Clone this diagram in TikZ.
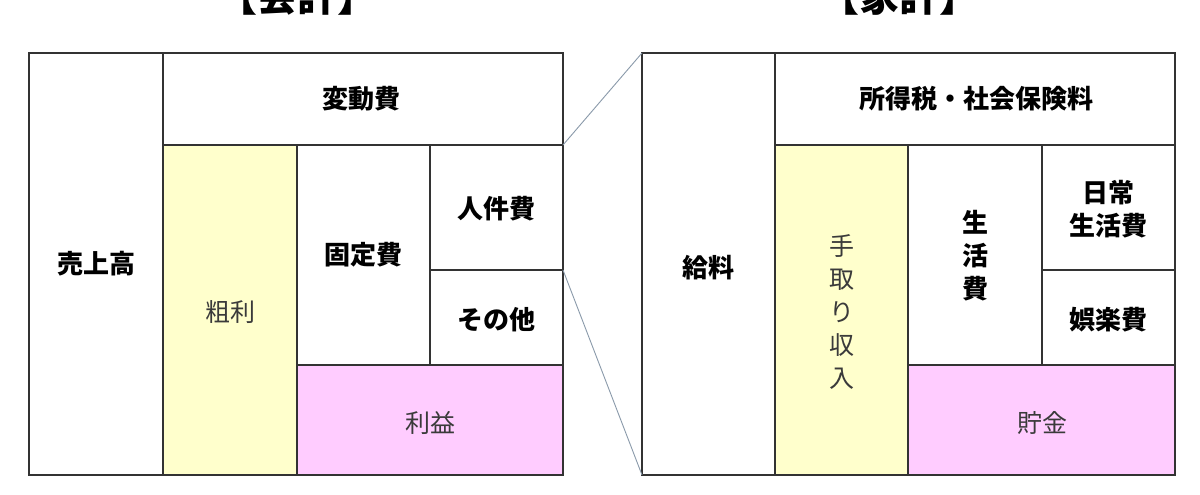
\documentclass[tikz,border=0pt]{standalone}
\usepackage{fontspec}
\newfontfamily\jp{Noto Sans CJK JP}
\definecolor{lineC}{HTML}{333333}
\definecolor{linkC}{HTML}{8A9AAA}
\definecolor{yel}{HTML}{FFFFCC}
\definecolor{pnk}{HTML}{FFCCFF}
\definecolor{txtC}{HTML}{3A3A3A}
\begin{document}
\begin{tikzpicture}[x=1pt,y=-1pt,
  cell/.style={draw=lineC,line width=1.3pt},
  blab/.style={font=\jp\bfseries\fontsize{26}{33}\selectfont,align=center,inner sep=0pt,text=black},
  rlab/.style={font=\jp\fontsize{25}{33}\selectfont,align=center,inner sep=0pt,text=txtC},
  ttl/.style={font=\jp\bfseries\fontsize{40}{40}\selectfont,inner sep=0pt,anchor=base},
  link/.style={draw=linkC,line width=0.9pt}]
\useasboundingbox (0,0) rectangle (1200,495);
\clip (0,0) rectangle (1200,495);
\fill[white] (0,0) rectangle (1200,495);
% titles
\node[ttl] (t1) at (297,12) {【会計】};
\node[ttl] (t2) at (899,12) {【家計】};
% ---- left panel
\filldraw[cell,fill=yel] (163,145) rectangle (297,475);
\filldraw[cell,fill=pnk] (297,365) rectangle (563,475);
\draw[cell] (29,53) rectangle (163,475);
\draw[cell] (163,53) rectangle (563,145);
\draw[cell] (297,145) rectangle (430,365);
\draw[cell] (430,145) rectangle (563,270);
\draw[cell] (430,270) rectangle (563,365);
\node[blab] (a1) at (96,264) {売上高};
\node[blab] (a2) at (361,99) {変動費};
\node[rlab] (a3) at (230,312) {粗利};
\node[blab] (a4) at (363,255) {固定費};
\node[blab] (a5) at (496,209) {人件費};
\node[blab] (a6) at (496,320) {その他};
\node[rlab] (a7) at (430,423) {利益};
% ---- right panel
\filldraw[cell,fill=yel] (775,145) rectangle (908,475);
\filldraw[cell,fill=pnk] (908,365) rectangle (1175,475);
\draw[cell] (642,53) rectangle (775,475);
\draw[cell] (775,53) rectangle (1175,145);
\draw[cell] (908,145) rectangle (1042,365);
\draw[cell] (1042,145) rectangle (1175,270);
\draw[cell] (1042,270) rectangle (1175,365);
\node[blab] (b1) at (708,268) {給料};
\node[blab] (b2) at (976,99) {所得税・社会保険料};
\node[rlab] (b3) at (842,312) {手\\取\\り\\収\\入};
\node[blab] (b4) at (975,256) {生\\活\\費};
\node[blab] (b5) at (1108,209) {日常\\生活費};
\node[blab] (b6) at (1108,320) {娯楽費};
\node[rlab] (b7) at (1042,423) {貯金};
% links
\coordinate (p1) at (563,145);
\coordinate (p2) at (563,270);
\coordinate (q1) at (642,53);
\coordinate (q2) at (642,475);
\draw[link] (p1) -- (q1);
\draw[link] (p2) -- (q2);
\end{tikzpicture}
\end{document}
